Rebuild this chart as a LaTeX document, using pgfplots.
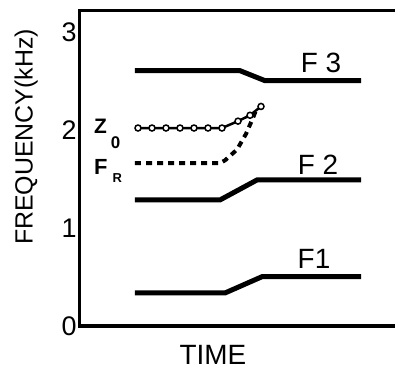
\documentclass[border=0pt]{standalone}
\usepackage{fontspec}
\setmainfont{Liberation Sans}
\usepackage{pgfplots}
\pgfplotsset{compat=1.18}
\begin{document}
\begin{tikzpicture}
\begin{axis}[
  scale only axis, width=315bp, height=315bp,
  xmin=0, xmax=315, ymin=0, ymax=3.214,
  axis line style={draw=none},
  xtick=\empty, ytick={0,1,2,3},
  major tick length=0pt,
  tick style={draw=none},
  tick label style={font=\fontsize{27}{27}\selectfont},
  /pgf/number format/assume math mode=true,
  ylabel={FREQUENCY(kHz)},
  ylabel style={at={(rel axis cs:-0.171,0.6)}, anchor=center, font=\fontsize{25}{25}\selectfont},
  xlabel={TIME},
  xlabel style={at={(rel axis cs:0.422,-0.091)}, anchor=center, inner sep=0pt, font=\fontsize{28}{28}\selectfont},
  clip=false,
]
\coordinate (bl) at (rel axis cs:0,0);
\coordinate (tr) at (rel axis cs:1,1);
\draw[line width=3bp] (rel axis cs:1,1) -- (rel axis cs:0,1) -- (rel axis cs:0,0) -- (rel axis cs:1,0);
% F1
\addplot[line width=5bp] coordinates {(55,0.337) (145,0.337) (182,0.503) (281,0.503)};
% F2
\addplot[line width=5bp] coordinates {(55,1.286) (140,1.286) (177,1.49) (281,1.49)};
% F3
\addplot[line width=5bp] coordinates {(55,2.605) (160,2.605) (185,2.503) (281,2.503)};
% FR
\addplot[line width=4bp, dash pattern=on 6bp off 5bp] coordinates {(55,1.663) (140,1.663) (145,1.69) (157,1.80) (166,1.96) (172,2.10) (176,2.20)};
% Z0
\addplot[line width=2.5bp, mark=*, mark size=3bp, mark options={fill=white, draw=black, line width=1.5bp}] coordinates {(58,2.02) (72,2.02) (86,2.02) (100,2.02) (114,2.02) (128,2.02) (142,2.02) (158,2.09) (170,2.15) (181,2.24)};
\node[font=\fontsize{28}{28}\selectfont, inner sep=0pt] at (axis cs:241,2.684) {F 3};
\node[font=\fontsize{28}{28}\selectfont, inner sep=0pt] at (axis cs:238,1.643) {F 2};
\node[font=\fontsize{28}{28}\selectfont, inner sep=0pt] at (axis cs:234,0.684) {F1};
\node[anchor=base west, inner sep=0pt] at (axis cs:14,1.969) {\bfseries\fontsize{21}{21}\selectfont Z\kern4bp\raisebox{-15bp}{\fontsize{17}{17}\selectfont 0}};
\node[anchor=base west, inner sep=0pt] at (axis cs:14,1.541) {\bfseries\fontsize{22}{22}\selectfont F\kern5bp\raisebox{-8bp}{\fontsize{13}{13}\selectfont R}};
\end{axis}
\pgfresetboundingbox
\path ([shift={(-80bp,-45bp)}]bl) rectangle ([shift={(0bp,11bp)}]tr);
\end{tikzpicture}
\end{document}
